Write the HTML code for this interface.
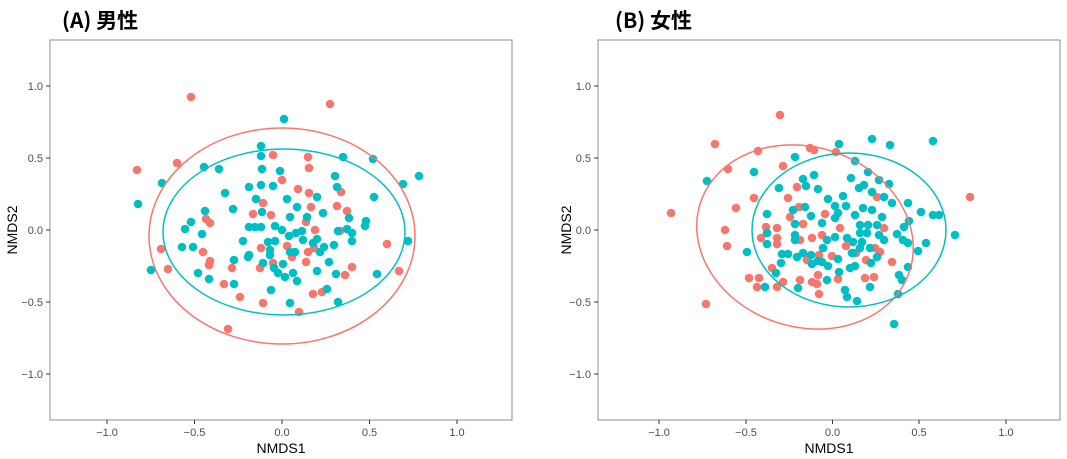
<!DOCTYPE html>
<html><head><meta charset="utf-8"><style>
body{margin:0;background:#fff;}
svg{display:block;font-family:"Liberation Sans","Noto Sans CJK JP",sans-serif;}
.t{font-size:11px;fill:#4d4d4d;}
.r{fill:#F8766D}.c{fill:#00BFC4}
.ti{font-family:"Noto Sans CJK JP","Liberation Sans",sans-serif;}
</style></head><body>
<svg width="1067" height="459" viewBox="0 0 1067 459" xmlns="http://www.w3.org/2000/svg">
<text class="ti" x="62" y="28" font-size="21" font-weight="bold" fill="#000">(A) 男性</text>
<text class="ti" x="615" y="28" font-size="21" font-weight="bold" fill="#000">(B) 女性</text>
<rect x="50" y="40" width="462" height="380" fill="#fff" stroke="#8c8c8c" stroke-width="1"/>
<rect x="598" y="40" width="462" height="380" fill="#fff" stroke="#8c8c8c" stroke-width="1"/>
<g stroke="#333" stroke-width="1">
<line x1="46" x2="50" y1="86" y2="86"/><line x1="46" x2="50" y1="158" y2="158"/><line x1="46" x2="50" y1="230" y2="230"/><line x1="46" x2="50" y1="302" y2="302"/><line x1="46" x2="50" y1="374" y2="374"/>
<line x1="594" x2="598" y1="86" y2="86"/><line x1="594" x2="598" y1="158" y2="158"/><line x1="594" x2="598" y1="230" y2="230"/><line x1="594" x2="598" y1="302" y2="302"/><line x1="594" x2="598" y1="374" y2="374"/>
<line x1="107" x2="107" y1="420" y2="424"/><line x1="194.5" x2="194.5" y1="420" y2="424"/><line x1="282" x2="282" y1="420" y2="424"/><line x1="369.5" x2="369.5" y1="420" y2="424"/><line x1="457" x2="457" y1="420" y2="424"/>
<line x1="659" x2="659" y1="420" y2="424"/><line x1="746" x2="746" y1="420" y2="424"/><line x1="832.5" x2="832.5" y1="420" y2="424"/><line x1="919" x2="919" y1="420" y2="424"/><line x1="1006" x2="1006" y1="420" y2="424"/>
</g>
<g class="t" text-anchor="end">
<text x="43" y="90">1.0</text><text x="43" y="162">0.5</text><text x="43" y="234">0.0</text><text x="43" y="306">−0.5</text><text x="43" y="378">−1.0</text>
<text x="591" y="90">1.0</text><text x="591" y="162">0.5</text><text x="591" y="234">0.0</text><text x="591" y="306">−0.5</text><text x="591" y="378">−1.0</text>
</g>
<g class="t" text-anchor="middle">
<text x="107" y="436">−1.0</text><text x="194.5" y="436">−0.5</text><text x="282" y="436">0.0</text><text x="369.5" y="436">0.5</text><text x="457" y="436">1.0</text>
<text x="659" y="436">−1.0</text><text x="746" y="436">−0.5</text><text x="832.5" y="436">0.0</text><text x="919" y="436">0.5</text><text x="1006" y="436">1.0</text>
</g>
<g font-size="14" fill="#000" text-anchor="middle">
<text x="281" y="453">NMDS1</text><text x="829" y="453">NMDS1</text>
<text transform="translate(17,230) rotate(-90)">NMDS2</text>
<text transform="translate(571,230) rotate(-90)">NMDS2</text>
</g>
<g class="r">
<circle cx="191" cy="97" r="4.3"/><circle cx="330" cy="104" r="4.3"/><circle cx="137" cy="170" r="4.3"/><circle cx="177" cy="163" r="4.3"/><circle cx="273" cy="155" r="4.3"/><circle cx="308" cy="157" r="4.3"/><circle cx="309" cy="168" r="4.3"/><circle cx="282" cy="180" r="4.3"/><circle cx="298" cy="189" r="4.3"/><circle cx="309" cy="193" r="4.3"/><circle cx="341" cy="192" r="4.3"/><circle cx="263" cy="203" r="4.3"/><circle cx="311" cy="207" r="4.3"/><circle cx="337" cy="206" r="4.3"/><circle cx="347" cy="211" r="4.3"/><circle cx="253" cy="214" r="4.3"/><circle cx="271" cy="215" r="4.3"/><circle cx="206" cy="219" r="4.3"/><circle cx="210" cy="223" r="4.3"/><circle cx="306" cy="222" r="4.3"/><circle cx="315" cy="230" r="4.3"/><circle cx="340" cy="231" r="4.3"/><circle cx="161" cy="249" r="4.3"/><circle cx="287" cy="246" r="4.3"/><circle cx="261" cy="248" r="4.3"/><circle cx="314" cy="248" r="4.3"/><circle cx="308" cy="252" r="4.3"/><circle cx="292" cy="257" r="4.3"/><circle cx="203" cy="252" r="4.3"/><circle cx="210" cy="261" r="4.3"/><circle cx="209" cy="265" r="4.3"/><circle cx="306" cy="262" r="4.3"/><circle cx="273" cy="263" r="4.3"/><circle cx="260" cy="268" r="4.3"/><circle cx="232" cy="268" r="4.3"/><circle cx="168" cy="269" r="4.3"/><circle cx="387" cy="244" r="4.3"/><circle cx="352" cy="267" r="4.3"/><circle cx="345" cy="275" r="4.3"/><circle cx="399" cy="271" r="4.3"/><circle cx="224" cy="284" r="4.3"/><circle cx="240" cy="297" r="4.3"/><circle cx="263" cy="303" r="4.3"/><circle cx="313" cy="294" r="4.3"/><circle cx="322" cy="292" r="4.3"/><circle cx="299" cy="312" r="4.3"/><circle cx="228" cy="329" r="4.3"/>
</g>
<g class="c">
<circle cx="284" cy="119" r="4.3"/><circle cx="261" cy="146" r="4.3"/><circle cx="261" cy="156" r="4.3"/><circle cx="343" cy="157" r="4.3"/><circle cx="373" cy="159" r="4.3"/><circle cx="204" cy="167" r="4.3"/><circle cx="219" cy="169" r="4.3"/><circle cx="262" cy="169" r="4.3"/><circle cx="280" cy="171" r="4.3"/><circle cx="162" cy="183" r="4.3"/><circle cx="419" cy="176" r="4.3"/><circle cx="403" cy="184" r="4.3"/><circle cx="335" cy="176" r="4.3"/><circle cx="337" cy="187" r="4.3"/><circle cx="249" cy="187" r="4.3"/><circle cx="261" cy="185" r="4.3"/><circle cx="273" cy="186" r="4.3"/><circle cx="225" cy="193" r="4.3"/><circle cx="256" cy="199" r="4.3"/><circle cx="287" cy="199" r="4.3"/><circle cx="317" cy="197" r="4.3"/><circle cx="374" cy="197" r="4.3"/><circle cx="138" cy="204" r="4.3"/><circle cx="233" cy="209" r="4.3"/><circle cx="297" cy="207" r="4.3"/><circle cx="323" cy="213" r="4.3"/><circle cx="205" cy="211" r="4.3"/><circle cx="262" cy="212" r="4.3"/><circle cx="290" cy="217" r="4.3"/><circle cx="307" cy="217" r="4.3"/><circle cx="349" cy="218" r="4.3"/><circle cx="366" cy="221" r="4.3"/><circle cx="365" cy="226" r="4.3"/><circle cx="191" cy="222" r="4.3"/><circle cx="185" cy="229" r="4.3"/><circle cx="249" cy="227" r="4.3"/><circle cx="255" cy="227" r="4.3"/><circle cx="261" cy="227" r="4.3"/><circle cx="275" cy="226" r="4.3"/><circle cx="282" cy="230" r="4.3"/><circle cx="302" cy="231" r="4.3"/><circle cx="296" cy="233" r="4.3"/><circle cx="289" cy="236" r="4.3"/><circle cx="338" cy="231" r="4.3"/><circle cx="347" cy="229" r="4.3"/><circle cx="352" cy="233" r="4.3"/><circle cx="202" cy="234" r="4.3"/><circle cx="303" cy="240" r="4.3"/><circle cx="317" cy="239" r="4.3"/><circle cx="313" cy="243" r="4.3"/><circle cx="243" cy="241" r="4.3"/><circle cx="268" cy="242" r="4.3"/><circle cx="275" cy="241" r="4.3"/><circle cx="352" cy="241" r="4.3"/><circle cx="408" cy="241" r="4.3"/><circle cx="334" cy="245" r="4.3"/><circle cx="182" cy="247" r="4.3"/><circle cx="193" cy="247" r="4.3"/><circle cx="270" cy="250" r="4.3"/><circle cx="290" cy="252" r="4.3"/><circle cx="295" cy="252" r="4.3"/><circle cx="320" cy="252" r="4.3"/><circle cx="324" cy="247" r="4.3"/><circle cx="249" cy="255" r="4.3"/><circle cx="248" cy="257" r="4.3"/><circle cx="234" cy="260" r="4.3"/><circle cx="270" cy="255" r="4.3"/><circle cx="329" cy="262" r="4.3"/><circle cx="263" cy="263" r="4.3"/><circle cx="283" cy="264" r="4.3"/><circle cx="274" cy="268" r="4.3"/><circle cx="278" cy="273" r="4.3"/><circle cx="285" cy="277" r="4.3"/><circle cx="293" cy="273" r="4.3"/><circle cx="317" cy="271" r="4.3"/><circle cx="198" cy="273" r="4.3"/><circle cx="151" cy="270" r="4.3"/><circle cx="336" cy="274" r="4.3"/><circle cx="377" cy="274" r="4.3"/><circle cx="209" cy="279" r="4.3"/><circle cx="234" cy="284" r="4.3"/><circle cx="297" cy="281" r="4.3"/><circle cx="327" cy="289" r="4.3"/><circle cx="271" cy="290" r="4.3"/><circle cx="290" cy="303" r="4.3"/><circle cx="338" cy="302" r="4.3"/>
</g>
<ellipse cx="282" cy="236" rx="133" ry="108" fill="none" stroke="#F8766D" stroke-width="1.5"/>
<ellipse cx="284" cy="232" rx="121" ry="83" fill="none" stroke="#00BFC4" stroke-width="1.5"/>
<g class="r">
<circle cx="780" cy="115" r="4.3"/><circle cx="715" cy="144" r="4.3"/><circle cx="758" cy="151" r="4.3"/><circle cx="810" cy="148" r="4.3"/><circle cx="814" cy="150" r="4.3"/><circle cx="836" cy="152" r="4.3"/><circle cx="728" cy="169" r="4.3"/><circle cx="783" cy="166" r="4.3"/><circle cx="671" cy="213" r="4.3"/><circle cx="970" cy="197" r="4.3"/><circle cx="754" cy="198" r="4.3"/><circle cx="736" cy="208" r="4.3"/><circle cx="797" cy="187" r="4.3"/><circle cx="788" cy="198" r="4.3"/><circle cx="799" cy="207" r="4.3"/><circle cx="790" cy="217" r="4.3"/><circle cx="803" cy="224" r="4.3"/><circle cx="825" cy="214" r="4.3"/><circle cx="766" cy="227" r="4.3"/><circle cx="777" cy="228" r="4.3"/><circle cx="725" cy="230" r="4.3"/><circle cx="727" cy="246" r="4.3"/><circle cx="761" cy="238" r="4.3"/><circle cx="777" cy="238" r="4.3"/><circle cx="777" cy="244" r="4.3"/><circle cx="800" cy="240" r="4.3"/><circle cx="812" cy="238" r="4.3"/><circle cx="822" cy="235" r="4.3"/><circle cx="840" cy="228" r="4.3"/><circle cx="884" cy="228" r="4.3"/><circle cx="846" cy="246" r="4.3"/><circle cx="875" cy="248" r="4.3"/><circle cx="880" cy="252" r="4.3"/><circle cx="819" cy="255" r="4.3"/><circle cx="832" cy="256" r="4.3"/><circle cx="807" cy="260" r="4.3"/><circle cx="856" cy="253" r="4.3"/><circle cx="866" cy="260" r="4.3"/><circle cx="892" cy="262" r="4.3"/><circle cx="772" cy="268" r="4.3"/><circle cx="749" cy="278" r="4.3"/><circle cx="759" cy="278" r="4.3"/><circle cx="757" cy="287" r="4.3"/><circle cx="783" cy="282" r="4.3"/><circle cx="777" cy="287" r="4.3"/><circle cx="800" cy="280" r="4.3"/><circle cx="812" cy="282" r="4.3"/><circle cx="818" cy="275" r="4.3"/><circle cx="817" cy="284" r="4.3"/><circle cx="838" cy="279" r="4.3"/><circle cx="865" cy="278" r="4.3"/><circle cx="874" cy="277" r="4.3"/><circle cx="819" cy="294" r="4.3"/><circle cx="706" cy="304" r="4.3"/><circle cx="877" cy="197" r="4.3"/>
</g>
<g class="c">
<circle cx="707" cy="181" r="4.3"/><circle cx="839" cy="144" r="4.3"/><circle cx="872" cy="139" r="4.3"/><circle cx="890" cy="145" r="4.3"/><circle cx="933" cy="141" r="4.3"/><circle cx="795" cy="157" r="4.3"/><circle cx="855" cy="161" r="4.3"/><circle cx="754" cy="172" r="4.3"/><circle cx="868" cy="172" r="4.3"/><circle cx="814" cy="175" r="4.3"/><circle cx="803" cy="179" r="4.3"/><circle cx="851" cy="178" r="4.3"/><circle cx="879" cy="180" r="4.3"/><circle cx="889" cy="184" r="4.3"/><circle cx="806" cy="186" r="4.3"/><circle cx="779" cy="188" r="4.3"/><circle cx="818" cy="189" r="4.3"/><circle cx="859" cy="188" r="4.3"/><circle cx="864" cy="185" r="4.3"/><circle cx="872" cy="192" r="4.3"/><circle cx="843" cy="196" r="4.3"/><circle cx="884" cy="197" r="4.3"/><circle cx="828" cy="199" r="4.3"/><circle cx="892" cy="203" r="4.3"/><circle cx="908" cy="203" r="4.3"/><circle cx="835" cy="206" r="4.3"/><circle cx="846" cy="206" r="4.3"/><circle cx="863" cy="208" r="4.3"/><circle cx="872" cy="210" r="4.3"/><circle cx="793" cy="210" r="4.3"/><circle cx="805" cy="207" r="4.3"/><circle cx="767" cy="214" r="4.3"/><circle cx="811" cy="216" r="4.3"/><circle cx="838" cy="213" r="4.3"/><circle cx="855" cy="215" r="4.3"/><circle cx="882" cy="217" r="4.3"/><circle cx="921" cy="212" r="4.3"/><circle cx="933" cy="215" r="4.3"/><circle cx="939" cy="215" r="4.3"/><circle cx="909" cy="221" r="4.3"/><circle cx="822" cy="223" r="4.3"/><circle cx="835" cy="218" r="4.3"/><circle cx="860" cy="225" r="4.3"/><circle cx="868" cy="225" r="4.3"/><circle cx="877" cy="225" r="4.3"/><circle cx="904" cy="227" r="4.3"/><circle cx="795" cy="224" r="4.3"/><circle cx="767" cy="233" r="4.3"/><circle cx="795" cy="235" r="4.3"/><circle cx="835" cy="237" r="4.3"/><circle cx="847" cy="238" r="4.3"/><circle cx="860" cy="233" r="4.3"/><circle cx="867" cy="233" r="4.3"/><circle cx="879" cy="235" r="4.3"/><circle cx="897" cy="234" r="4.3"/><circle cx="955" cy="235" r="4.3"/><circle cx="767" cy="244" r="4.3"/><circle cx="795" cy="240" r="4.3"/><circle cx="827" cy="240" r="4.3"/><circle cx="853" cy="242" r="4.3"/><circle cx="862" cy="242" r="4.3"/><circle cx="884" cy="240" r="4.3"/><circle cx="903" cy="240" r="4.3"/><circle cx="908" cy="243" r="4.3"/><circle cx="926" cy="243" r="4.3"/><circle cx="823" cy="248" r="4.3"/><circle cx="853" cy="253" r="4.3"/><circle cx="860" cy="248" r="4.3"/><circle cx="870" cy="248" r="4.3"/><circle cx="747" cy="252" r="4.3"/><circle cx="782" cy="254" r="4.3"/><circle cx="788" cy="254" r="4.3"/><circle cx="797" cy="257" r="4.3"/><circle cx="803" cy="253" r="4.3"/><circle cx="811" cy="255" r="4.3"/><circle cx="818" cy="261" r="4.3"/><circle cx="838" cy="259" r="4.3"/><circle cx="852" cy="253" r="4.3"/><circle cx="877" cy="257" r="4.3"/><circle cx="918" cy="251" r="4.3"/><circle cx="781" cy="263" r="4.3"/><circle cx="812" cy="264" r="4.3"/><circle cx="822" cy="262" r="4.3"/><circle cx="828" cy="266" r="4.3"/><circle cx="850" cy="268" r="4.3"/><circle cx="855" cy="266" r="4.3"/><circle cx="871" cy="263" r="4.3"/><circle cx="908" cy="267" r="4.3"/><circle cx="776" cy="273" r="4.3"/><circle cx="839" cy="272" r="4.3"/><circle cx="899" cy="275" r="4.3"/><circle cx="902" cy="280" r="4.3"/><circle cx="827" cy="280" r="4.3"/><circle cx="765" cy="287" r="4.3"/><circle cx="798" cy="288" r="4.3"/><circle cx="870" cy="287" r="4.3"/><circle cx="845" cy="290" r="4.3"/><circle cx="847" cy="297" r="4.3"/><circle cx="857" cy="301" r="4.3"/><circle cx="898" cy="294" r="4.3"/><circle cx="894" cy="324" r="4.3"/>
</g>
<ellipse cx="0" cy="0" rx="110" ry="90" transform="translate(805,237) rotate(18)" fill="none" stroke="#F8766D" stroke-width="1.5"/>
<ellipse cx="849" cy="230" rx="97" ry="77" fill="none" stroke="#00BFC4" stroke-width="1.5"/>
</svg>
</body></html>
